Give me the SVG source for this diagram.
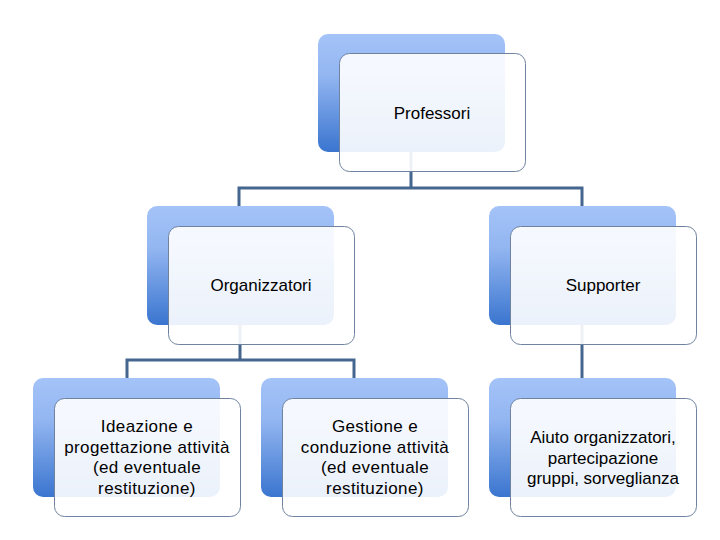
<svg xmlns="http://www.w3.org/2000/svg" width="720" height="540" viewBox="0 0 720 540">
<defs>
<linearGradient id="blue" x1="0" y1="0" x2="0" y2="1">
<stop offset="0" stop-color="#a4c3f8"/>
<stop offset="0.35" stop-color="#93b6f1"/>
<stop offset="1" stop-color="#3a75cf"/>
</linearGradient>
<style>
.back{fill:url(#blue);}
.front{fill:#ffffff;fill-opacity:0.9;stroke:#6f83a0;stroke-width:1;}
.conn{fill:none;stroke:#45668f;stroke-width:3;}
text{font-family:"Liberation Sans",Arial,sans-serif;font-size:17px;fill:#000;text-anchor:middle;}
.w{letter-spacing:0.4px;}
</style>
</defs>
<rect width="720" height="540" fill="#ffffff"/>
<g id="connectors">
<path class="conn" d="M411,152 V188 M239,188 H582 M239,186.5 V206 M582,186.5 V206"/>
<path class="conn" d="M240,325 V360 M127,360 H354 M127,358.5 V378 M354,358.5 V378"/>
<path class="conn" d="M582,325 V378"/>
</g>
<g id="professori">
<rect class="back" x="318" y="34" width="187" height="118" rx="10"/>
<rect class="front" x="339.5" y="53.5" width="186" height="118" rx="10"/>
<text x="432" y="119">Professori</text>
</g>
<g id="organizzatori">
<rect class="back" x="147" y="206" width="187" height="119" rx="10"/>
<rect class="front" x="168.5" y="226.5" width="186" height="118" rx="10"/>
<text x="261" y="291">Organizzatori</text>
</g>
<g id="supporter">
<rect class="back" x="489" y="206" width="187" height="119" rx="10"/>
<rect class="front" x="510.5" y="226.5" width="186" height="118" rx="10"/>
<text x="603" y="291">Supporter</text>
</g>
<g id="ideazione">
<rect class="back" x="33" y="378" width="187" height="119" rx="10"/>
<rect class="front" x="54.5" y="398.5" width="186" height="118" rx="10"/>
<text class="w" x="147" y="432">Ideazione e</text>
<text class="w" x="147" y="452.5">progettazione attività</text>
<text class="w" x="147" y="473">(ed eventuale</text>
<text class="w" x="147" y="493.5">restituzione)</text>
</g>
<g id="gestione">
<rect class="back" x="261" y="378" width="187" height="119" rx="10"/>
<rect class="front" x="282.5" y="398.5" width="186" height="118" rx="10"/>
<text class="w" x="375" y="432">Gestione e</text>
<text class="w" x="375" y="452.5">conduzione attività</text>
<text class="w" x="375" y="473">(ed eventuale</text>
<text class="w" x="375" y="493.5">restituzione)</text>
</g>
<g id="aiuto">
<rect class="back" x="489" y="378" width="187" height="119" rx="10"/>
<rect class="front" x="510.5" y="398.5" width="186" height="118" rx="10"/>
<text x="603" y="443">Aiuto organizzatori,</text>
<text x="603" y="463.5">partecipazione</text>
<text x="603" y="484">gruppi, sorveglianza</text>
</g>
</svg>
